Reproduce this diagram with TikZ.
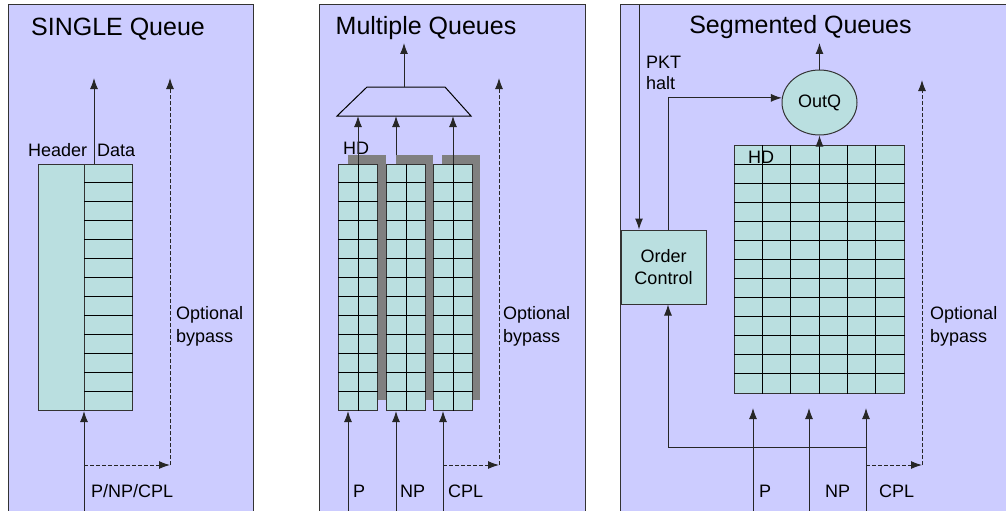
\documentclass[tikz,border=0pt]{standalone}
\usepackage{fontspec}
\setmainfont{Liberation Sans}
\usetikzlibrary{arrows.meta,shapes.geometric,calc}
\definecolor{bg}{HTML}{CCCCFF}
\definecolor{qfill}{HTML}{BADFE0}
\definecolor{shadowc}{HTML}{808080}
\definecolor{edge}{HTML}{333333}
\begin{document}
\begin{tikzpicture}[x=1pt,y=-1pt,
  panel/.style={draw=edge, line width=1pt, fill=bg},
  qbox/.style={draw=edge, line width=1pt, fill=qfill, inner sep=0pt, anchor=north west},
  shad/.style={fill=shadowc, draw=none, inner sep=0pt, anchor=north west},
  ctrl/.style={draw=edge, line width=1pt, fill=qfill, inner sep=0pt, align=center, font=\fontsize{18}{22}\selectfont},
  gl/.style={draw=black, line width=1pt},
  arr/.style={draw=black!85, line width=1pt, -{Latex[length=11pt,width=8pt]}},
  darr/.style={arr, dash pattern=on 4pt off 2pt},
  title/.style={font=\fontsize{25}{30}\selectfont, inner sep=0pt},
  lbl/.style={font=\fontsize{18}{23}\selectfont, inner sep=0pt, align=left, anchor=west},
]
\useasboundingbox (0,0) rectangle (1006,511);
\begin{scope}
\clip (0,0) rectangle (1006,511);

% ---------------- Panel 1 ----------------
\draw[panel] (8,5) rectangle (253,530);
\node[title] (t1) at (118,29) {SINGLE Queue};
\node[qbox, minimum width=46pt, minimum height=246pt] (hdr) at (38,164) {};
\node[qbox, minimum width=48pt, minimum height=246pt] (dat) at (84,164) {};
\foreach \k in {1,...,12}
  \draw[gl] ($(dat.north west)+(0,\k*18.923)$) -- ($(dat.north east)+(0,\k*18.923)$);
\node[lbl] (lh) at (28,150) {Header};
\node[lbl] (ld) at (97,150) {Data};
\coordinate (o1) at (94,78);
\draw[arr] (o1 |- dat.north) -- (o1);
\coordinate (in1) at (84,520);
\draw[arr] (in1) -- (dat.south west);
\coordinate (b1) at (170,465);
\coordinate (bt1) at (170,78);
\draw[darr] (in1 |- b1) -- (b1);
\draw[darr] (b1) -- (bt1);
\node[lbl] (ob1) at (176,326.5) {Optional\\bypass};
\node[lbl] (pl1) at (91,491) {P/NP/CPL};

% ---------------- Panel 2 ----------------
\draw[panel] (319,5) rectangle (585,530);
\node[title] (t2) at (426,28) {Multiple Queues};
\node[shad, minimum width=38pt, minimum height=245pt] (s1) at (348,155) {};
\node[shad, minimum width=37pt, minimum height=245pt] (s2) at (396,155) {};
\node[shad, minimum width=38pt, minimum height=245pt] (s3) at (442,155) {};
\node[qbox, minimum width=39pt, minimum height=246pt] (q1) at (338,164) {};
\node[qbox, minimum width=39pt, minimum height=246pt] (q2) at (386,164) {};
\node[qbox, minimum width=39pt, minimum height=246pt] (q3) at (433,164) {};
\foreach \q in {q1,q2,q3}{
  \draw[gl] (\q.north) -- (\q.south);
  \foreach \k in {1,...,12}
    \draw[gl] ($(\q.north west)+(0,\k*18.923)$) -- ($(\q.north east)+(0,\k*18.923)$);
}
\coordinate (muxbl) at (337,116);
\coordinate (muxtl) at (367,87);
\coordinate (muxtr) at (445,87);
\coordinate (muxbr) at (471,116);
\coordinate (muxN) at (404,87);
\draw[gl, line join=miter] (muxbl) -- (muxtl) -- (muxtr) -- (muxbr) -- cycle;
\node[lbl] (hd2) at (343,148) {HD};
\draw[arr] (q1.north) -- (q1.north |- muxbl);
\draw[arr] (s2.north west) -- (s2.north west |- muxbl);
\draw[arr] (q3.north) -- (q3.north |- muxbl);
\coordinate (o2) at (404,43);
\draw[arr] (muxN) -- (o2);
\coordinate (p2) at (348,520);
\coordinate (np2) at (396,520);
\coordinate (c2) at (443,520);
\draw[arr] (p2) -- (p2 |- q1.south);
\draw[arr] (np2) -- (np2 |- q2.south);
\draw[arr] (c2) -- (c2 |- q3.south);
\coordinate (b2) at (499,465);
\coordinate (bt2) at (499,78);
\draw[darr] (c2 |- b2) -- (b2);
\draw[darr] (b2) -- (bt2);
\node[lbl] (ob2) at (503,326.5) {Optional\\bypass};
\node[lbl] (lp2) at (353,491) {P};
\node[lbl] (lnp2) at (400,491) {NP};
\node[lbl] (lc2) at (448,491) {CPL};

% ---------------- Panel 3 ----------------
\draw[panel] (620,5) rectangle (1030,530);
\node[title] (t3) at (800.5,27) {Segmented Queues};
\node[ellipse, draw=edge, line width=1pt, fill=qfill, minimum width=75pt, minimum height=65pt,
      inner sep=0pt, font=\fontsize{18}{22}\selectfont] (outq) at (819.5,102.5) {OutQ};
\node[qbox, minimum width=170pt, minimum height=248pt] (grid) at (734,145) {};
\foreach \k in {1,...,5}
  \draw[gl] ($(grid.north west)+(\k*28.333,0)$) -- ($(grid.south west)+(\k*28.333,0)$);
\foreach \k in {1,...,12}
  \draw[gl] ($(grid.north west)+(0,\k*19.077)$) -- ($(grid.north east)+(0,\k*19.077)$);
\node[lbl] (hd3) at (748,157) {HD};
\draw[arr] (grid.north) -- (outq.south);
\coordinate (o3) at (819.5,43);
\draw[arr] (outq.north) -- (o3);
\node[ctrl, minimum width=85pt, minimum height=74pt] (oc) at (663.5,267) {Order\\Control};
\coordinate (pk) at (639,5);
\draw[arr] (pk) -- (pk |- oc.north);
\node[lbl, font=\fontsize{18}{21}\selectfont] (pkl) at (646,73) {PKT\\halt};
\coordinate (ocx) at (668,0);
\draw[arr] (ocx |- oc.north) |- (outq.173);
\coordinate (p3) at (753,520);
\coordinate (np3) at (809,520);
\coordinate (c3) at (866,520);
\coordinate (tip3) at (0,408);
\draw[arr] (p3) -- (p3 |- tip3);
\draw[arr] (np3) -- (np3 |- tip3);
\draw[arr] (c3) -- (c3 |- tip3);
\coordinate (fb) at (866,447);
\draw[arr] (fb) -| (ocx |- oc.south);
\coordinate (b3) at (922,465);
\coordinate (bt3) at (922,80);
\draw[darr] (c3 |- b3) -- (b3);
\draw[darr] (b3) -- (bt3);
\node[lbl] (ob3) at (930,326.5) {Optional\\bypass};
\node[lbl] (lp3) at (759,491) {P};
\node[lbl] (lnp3) at (825,491) {NP};
\node[lbl] (lc3) at (879,491) {CPL};
\end{scope}
\end{tikzpicture}
\end{document}
